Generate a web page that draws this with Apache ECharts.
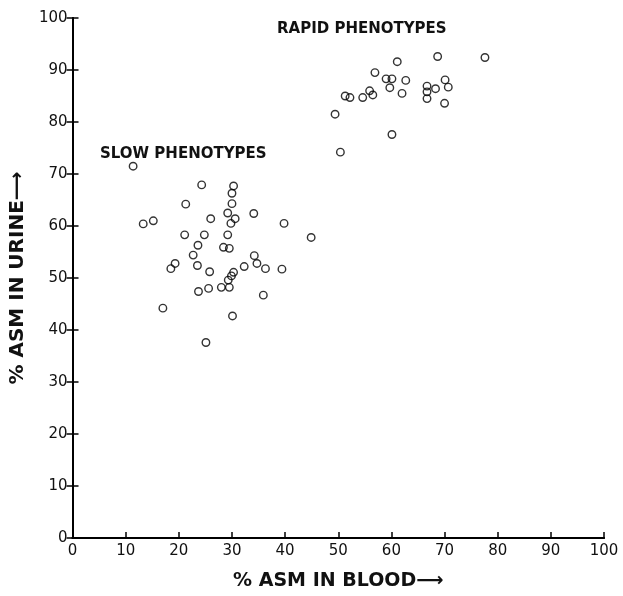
<!DOCTYPE html>
<html><head><meta charset="utf-8">
<script src="https://cdn.jsdelivr.net/npm/echarts@6/dist/echarts.min.js"></script>
<style>html,body{margin:0;padding:0;background:#fff}#c{width:623px;height:596px}</style>
</head><body><div id="c"></div>
<script>
const xTicks = [0,10,20,30,40,50,60,70,80,90,100];
const yTicks = [0,10,20,30,40,50,60,70,80,90,100];
const slowX = [11.4,24.3,30.3,30.0,21.3,30.0,34.1,29.2,30.6,26.0,29.8,15.2,13.3,21.1,24.8,29.2,23.6,28.4,29.5,44.9,39.8,22.7,34.2,19.3,18.5,23.5,34.7,25.8,30.3,32.3,36.3,39.4,29.9,29.3,29.5,28.0,25.6,23.7,35.9,17.0,30.1,25.1];
const slowY = [71.5,67.9,67.7,66.3,64.2,64.3,62.4,62.5,61.4,61.4,60.5,61.0,60.4,58.3,58.3,58.3,56.3,55.9,55.7,57.8,60.5,54.4,54.3,52.8,51.8,52.4,52.8,51.2,51.1,52.2,51.8,51.7,50.4,49.6,48.2,48.2,48.0,47.4,46.7,44.2,42.7,37.6];
const rapidX = [68.7,77.6,61.1,56.9,59.0,60.1,62.7,70.1,70.7,59.7,66.7,68.3,66.7,55.9,56.5,62.0,54.6,51.3,52.2,66.7,70.0,49.4,60.1,50.4];
const rapidY = [92.6,92.4,91.6,89.5,88.3,88.3,88.0,88.1,86.7,86.6,86.9,86.4,85.8,86.0,85.2,85.5,84.7,85.0,84.7,84.5,83.6,81.5,77.6,74.2];
const groupLabels = ['SLOW PHENOTYPES','RAPID PHENOTYPES'];
const xTitle = '% ASM IN BLOOD\u27F6';
const yTitle = '% ASM IN URINE\u27F6';

const FONT = 'DejaVu Sans';
const chart = echarts.init(document.getElementById('c'));
const pair = (xs, ys) => xs.map((x, i) => [x, ys[i]]);
const axisCommon = {
  type: 'value', min: 0, max: 100, interval: 10,
  axisLine: {show: true, lineStyle: {color: '#000', width: 2}},
  axisTick: {show: true, inside: true, length: 6, lineStyle: {color: '#000', width: 1.5}},
  splitLine: {show: false}
};
const circleStyle = {color: 'rgba(0,0,0,0)', borderColor: '#000', borderWidth: 1.4};
chart.setOption({
  animation: false,
  backgroundColor: '#fff',
  grid: {left: 70, right: 19, top: 18, bottom: 47},
  xAxis: [
    Object.assign({}, axisCommon, {
      position: 'bottom',
      axisLabel: {color: '#111', fontSize: 15, fontFamily: FONT, margin: 6,
        formatter: v => xTicks.includes(v) ? String(v) : ''},
      name: xTitle, nameLocation: 'middle', nameGap: 34,
      nameTextStyle: {color: '#111', fontSize: 19, fontWeight: 'bold', fontFamily: FONT}
    }),
    Object.assign({}, axisCommon, {
      position: 'top', axisTick: {show: false}, axisLabel: {show: false}
    })
  ],
  yAxis: [
    Object.assign({}, axisCommon, {
      position: 'left',
      axisLabel: {color: '#111', fontSize: 15, fontFamily: FONT, margin: 5,
        formatter: v => yTicks.includes(v) ? String(v) : ''},
      name: yTitle, nameLocation: 'middle', nameGap: 42,
      nameTextStyle: {color: '#111', fontSize: 20, fontWeight: 'bold', fontFamily: FONT}
    }),
    Object.assign({}, axisCommon, {
      position: 'right', axisLabel: {show: false}
    })
  ],
  series: [
    {type: 'scatter', name: 'slow', symbol: 'circle', symbolSize: 7.5,
     itemStyle: circleStyle, data: pair(slowX, slowY)},
    {type: 'scatter', name: 'rapid', symbol: 'circle', symbolSize: 7.5,
     itemStyle: circleStyle, data: pair(rapidX, rapidY)}
  ],
  graphic: [
    {type: 'text', left: 100, top: 147,
     style: {text: groupLabels[0], fill: '#111', fontSize: 15, fontWeight: 'bold', fontFamily: FONT}},
    {type: 'text', left: 277, top: 22,
     style: {text: groupLabels[1], fill: '#111', fontSize: 15, fontWeight: 'bold', fontFamily: FONT}}
  ]
});
</script></body></html>
